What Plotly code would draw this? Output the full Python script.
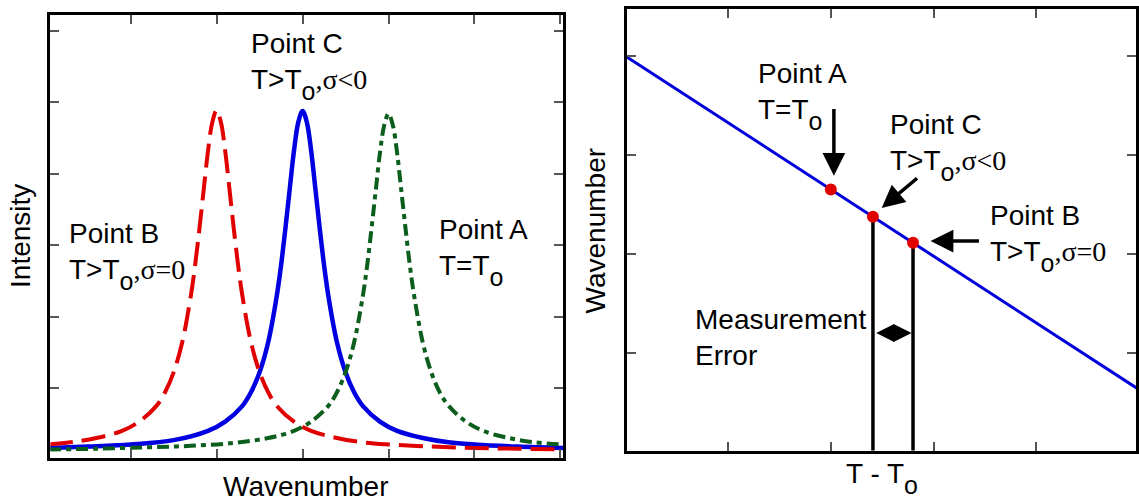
import plotly.graph_objects as go

# ---------------- Left panel: line profiles (wavenumber / intensity, tick units) ----------------
red_x = [0.05, 0.3, 0.6, 0.9, 1.1, 1.3, 1.4, 1.5, 1.6, 1.7, 1.75, 1.8, 1.85, 1.9, 1.95, 2.0,
         2.05, 2.1, 2.15, 2.2, 2.25, 2.3, 2.4, 2.5, 2.6, 2.7, 2.9, 3.1, 3.4, 3.7, 4.0, 4.5, 5.0, 5.5, 6.04]
red_y = [0.21, 0.24, 0.30, 0.40, 0.53, 0.75, 0.94, 1.22, 1.64, 2.29, 2.72, 3.23, 3.78, 4.32, 4.72, 4.89,
         4.72, 4.32, 3.78, 3.23, 2.72, 2.29, 1.64, 1.22, 0.94, 0.75, 0.53, 0.40, 0.30, 0.24, 0.21, 0.18, 0.16, 0.15, 0.14]

blue_x = [0.05, 0.5, 1.0, 1.5, 1.9, 2.1, 2.3, 2.4, 2.5, 2.6, 2.7, 2.75, 2.8, 2.85, 2.9, 2.95, 3.0,
          3.05, 3.1, 3.15, 3.2, 3.25, 3.3, 3.4, 3.5, 3.6, 3.7, 3.9, 4.1, 4.4, 4.7, 5.0, 5.5, 6.04]
blue_y = [0.16, 0.18, 0.21, 0.27, 0.40, 0.53, 0.75, 0.94, 1.22, 1.64, 2.29, 2.72, 3.23, 3.78, 4.32, 4.72, 4.88,
          4.72, 4.32, 3.78, 3.23, 2.72, 2.29, 1.64, 1.22, 0.94, 0.75, 0.53, 0.40, 0.30, 0.24, 0.21, 0.18, 0.16]

green_x = [0.05, 0.6, 1.2, 1.7, 2.2, 2.6, 2.9, 3.1, 3.3, 3.4, 3.5, 3.6, 3.7, 3.75, 3.8, 3.85, 3.9, 3.95, 4.0,
           4.05, 4.1, 4.15, 4.2, 4.25, 4.3, 4.4, 4.5, 4.6, 4.7, 4.9, 5.1, 5.4, 5.7, 6.04]
green_y = [0.14, 0.15, 0.17, 0.19, 0.23, 0.30, 0.40, 0.53, 0.75, 0.94, 1.22, 1.64, 2.28, 2.70, 3.21, 3.75, 4.29, 4.68, 4.84,
           4.68, 4.29, 3.75, 3.21, 2.70, 2.28, 1.63, 1.21, 0.93, 0.75, 0.53, 0.40, 0.30, 0.24, 0.21]

left_xticks = [1, 2, 3, 4, 5, 6]
left_yticks = [1, 2, 3, 4, 5, 6]

# ---------------- Right panel: wavenumber vs T - To ----------------
line_t = [0.0, 5.0]
line_w = [4.0, 0.63]
pt_names = ["A", "C", "B"]
pt_t = [2.0, 2.41, 2.80]
pt_w = [2.652, 2.376, 2.113]
right_xticks = [1, 2, 3, 4]
right_yticks = [1, 2, 3, 4]

W, H = 1139, 502
SANS = "Liberation Sans, Arial, sans-serif"
FS = 28
SERIF_OPEN = '<span style="font-family:Liberation Serif, Times New Roman, serif">'
SUB_O = '<span style="font-size:25px;baseline-shift:-11px">o</span>'

fig = go.Figure()

fig.add_trace(go.Scatter(x=blue_x, y=blue_y, mode="lines", line=dict(color="#0000e0", width=4.5, shape="spline"),
                         xaxis="x", yaxis="y", showlegend=False, hoverinfo="skip"))
fig.add_trace(go.Scatter(x=red_x, y=red_y, mode="lines", line=dict(color="#e00000", width=4, dash="24px,9px", shape="spline"),
                         xaxis="x", yaxis="y", showlegend=False, hoverinfo="skip"))
fig.add_trace(go.Scatter(x=green_x, y=green_y, mode="lines", line=dict(color="#0b5e1c", width=4, dash="12px,5px,5px,5px", shape="spline"),
                         xaxis="x", yaxis="y", showlegend=False, hoverinfo="skip"))

fig.add_trace(go.Scatter(x=line_t, y=line_w, mode="lines", line=dict(color="#0000dd", width=3),
                         xaxis="x2", yaxis="y2", showlegend=False, hoverinfo="skip"))
for i in (1, 2):
    fig.add_trace(go.Scatter(x=[pt_t[i], pt_t[i]], y=[0, pt_w[i]], mode="lines", line=dict(color="black", width=3.5),
                             xaxis="x2", yaxis="y2", showlegend=False, hoverinfo="skip"))
fig.add_trace(go.Scatter(x=pt_t, y=pt_w, mode="markers", marker=dict(color="#e00000", size=12),
                         xaxis="x2", yaxis="y2", showlegend=False, hoverinfo="skip"))

axis_common = dict(showticklabels=False, ticks="inside", ticklen=9, tickwidth=1.5, tickcolor="#555",
                   showline=True, linewidth=3, linecolor="black", mirror="ticks",
                   showgrid=False, zeroline=False, fixedrange=True)

fig.update_layout(
    width=W, height=H, margin=dict(l=0, r=0, t=0, b=0),
    paper_bgcolor="white", plot_bgcolor="white",
    xaxis=dict(domain=[50.5 / W, 564.5 / W], range=[0.066, 6.03], tickvals=left_xticks, anchor="y", **axis_common),
    yaxis=dict(domain=[1 - 457.5 / H, 1 - 14.5 / H], range=[0.027, 6.23], tickvals=left_yticks, anchor="x", **axis_common),
    xaxis2=dict(domain=[628.5 / W, 1.0], range=[0.015, 4.97], tickvals=right_xticks, anchor="y2", **axis_common),
    yaxis2=dict(domain=[1 - 450.5 / H, 1 - 8.5 / H], range=[0.015, 4.48], tickvals=right_yticks, anchor="x2", **axis_common),
)

ann = []


def label(px, cap_top, text):
    ann.append(dict(x=px / W, y=1 - (cap_top - 6) / H, xref="paper", yref="paper", xanchor="left", yanchor="top",
                    align="left", text=text, showarrow=False, font=dict(family=SANS, size=FS, color="black")))


sub_o = "T" + SUB_O
lab_C = "Point C<br>T&gt;" + sub_o + SERIF_OPEN + ",σ&lt;0</span>"
lab_B = "Point B<br>T&gt;" + sub_o + SERIF_OPEN + ",σ=0</span>"
lab_A = "Point A<br>T=" + sub_o

label(250, 32, lab_C)
label(67, 222, lab_B)
label(438, 218, lab_A)
label(758, 62, lab_A)
label(890, 113, lab_C)
label(991, 204, lab_B)
label(695, 308, "Measurement<br>Error")
label(846, 462, "T - " + sub_o)

# axis titles
ann.append(dict(x=20 / W, y=1 - 236 / H, xref="paper", yref="paper", xanchor="center", yanchor="middle",
                text="Intensity", textangle=-90, showarrow=False, font=dict(family=SANS, size=FS, color="black")))
ann.append(dict(x=306 / W, y=1 - 469 / H, xref="paper", yref="paper", xanchor="center", yanchor="top",
                text="Wavenumber", showarrow=False, font=dict(family=SANS, size=FS, color="black")))
ann.append(dict(x=597 / W, y=1 - 231 / H, xref="paper", yref="paper", xanchor="center", yanchor="middle",
                text="Wavenumber", textangle=-90, showarrow=False, font=dict(family=SANS, size=FS, color="black")))

# arrows (tip at x,y ; tail at ax,ay in data units of the right panel)
arrow_common = dict(xref="x2", yref="y2", axref="x2", ayref="y2", text="", showarrow=True,
                    arrowhead=2, arrowcolor="black", arrowwidth=3.5, arrowsize=1.3, standoff=0)
ann.append(dict(x=2.03, y=2.79, ax=2.03, ay=3.48, **arrow_common))
ann.append(dict(x=2.495, y=2.465, ax=2.854, ay=2.778, **arrow_common))
ann.append(dict(x=2.971, y=2.131, ax=3.456, ay=2.131, **arrow_common))
ann.append(dict(x=2.786, y=1.202, ax=2.427, ay=1.202, xref="x2", yref="y2", axref="x2", ayref="y2", text="",
                showarrow=True, arrowhead=2, startarrowhead=2, arrowside="end+start", arrowcolor="black",
                arrowwidth=2, arrowsize=1.8, startarrowsize=1.8, standoff=0, startstandoff=0))

fig.update_layout(annotations=ann)

fig.write_html("out.html")
